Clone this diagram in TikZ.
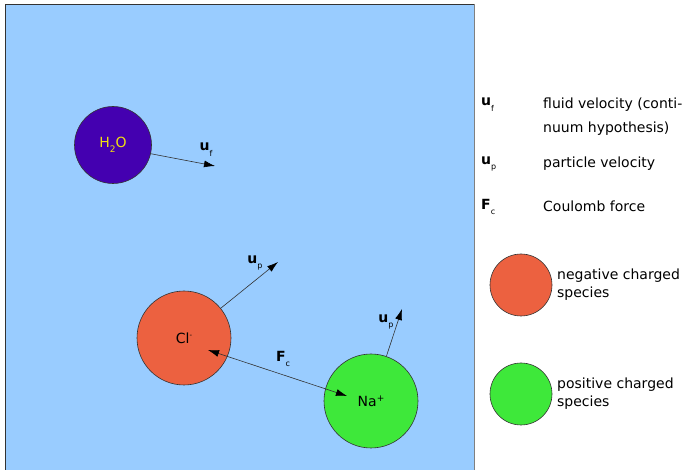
\documentclass[tikz,border=0pt]{standalone}
\usepackage{fontspec}
\setmainfont{DejaVu Sans}
\usetikzlibrary{arrows.meta}

\definecolor{fluid}{HTML}{99CCFF}
\definecolor{water}{HTML}{4400B0}
\definecolor{watertext}{HTML}{F0E010}
\definecolor{anion}{HTML}{EC6140}
\definecolor{cation}{HTML}{3EE83A}
\definecolor{edge}{HTML}{333333}

% bold vector symbol with a small lowered index
\newcommand{\vecsym}[2]{\textbf{#1}\raisebox{-0.75ex}{\fontsize{8}{8}\selectfont #2}}

\tikzset{
  tip/.style={-{Latex[length=11pt,width=7pt,fill=black,color=black]}},
  particle/.style={circle, draw=edge, line width=0.6pt, inner sep=0pt, minimum size=#1},
  vel/.style={draw=edge, line width=0.6pt, -{Latex[length=11pt,width=7pt,color=black]}},
  force/.style={draw=edge, line width=0.6pt, {Latex[length=11pt,width=7pt,color=black]}-{Latex[length=11pt,width=7pt,color=black]}},
  lbl/.style={inner sep=0pt, font=\fontsize{14}{16}\selectfont},
  legtext/.style={inner sep=0pt, anchor=west, align=left, font=\fontsize{14}{24}\selectfont},
}

\begin{document}
\begin{tikzpicture}[x=1pt, y=-1pt]
  \useasboundingbox (0,0) rectangle (686,470);

  % fluid domain
  \begin{scope}
    \clip (0,0) rectangle (686,470);
    \fill[fluid] (5,4) rectangle (474,480);
    \draw[edge, line width=0.8pt] (5,480) -- (5,4) -- (474,4);
    \draw[gray, line width=1pt] (474,4) -- (474,480);
  \end{scope}

  % particles
  \node[particle=77pt, fill=water, text=watertext, lbl] (h2o) at (113,145) {H\raisebox{-0.6ex}{\fontsize{9}{9}\selectfont 2}O};
  \node[particle=94pt, fill=anion, lbl] (cl) at (184,338) {Cl\raisebox{0.7ex}{\fontsize{7}{7}\selectfont -}};
  \node[particle=94pt, fill=cation, lbl] (na) at (371,401) {Na\raisebox{0.7ex}{\fontsize{9}{9}\selectfont +}};

  % arrow end points
  \coordinate (uf) at (215,166);
  \coordinate (upcl) at (278,262);
  \coordinate (upna) at (402,309);
  \coordinate (fcl) at (208,350);
  \coordinate (fna) at (347,396);

  \draw[vel] (h2o.-13) -- (uf);
  \draw[vel] (cl.39) -- (upcl);
  \draw[vel] (na.71) -- (upna);
  \draw[force] (fna) -- (fcl);

  \node[lbl] (luf) at (206,150) {\vecsym{u}{f}};
  \node[lbl] (lupcl) at (255,263) {\vecsym{u}{p}};
  \node[lbl] (lupna) at (386,322) {\vecsym{u}{p}};
  \node[lbl] (lfc) at (283,359) {\vecsym{F}{c}};

  % legend
  \node[lbl, anchor=west] (kuf) at (481,105) {\vecsym{u}{f}};
  \node[lbl, anchor=west] (kup) at (481,164) {\vecsym{u}{p}};
  \node[lbl, anchor=west] (kfc) at (481,207) {\vecsym{F}{c}};
  \node[legtext] (tuf) at (543,117) {fluid velocity (conti-\\nuum hypothesis)};
  \node[legtext] (tup) at (543,164) {particle velocity};
  \node[legtext] (tfc) at (543,206) {Coulomb force};

  \node[particle=62pt, fill=anion] (kneg) at (521,285) {};
  \node[particle=62pt, fill=cation] (kpos) at (521,394) {};
  \node[legtext, font=\fontsize{14}{18}\selectfont] (tneg) at (557,285) {negative charged\\species};
  \node[legtext, font=\fontsize{14}{18}\selectfont] (tpos) at (557,394) {positive charged\\species};
\end{tikzpicture}
\end{document}
